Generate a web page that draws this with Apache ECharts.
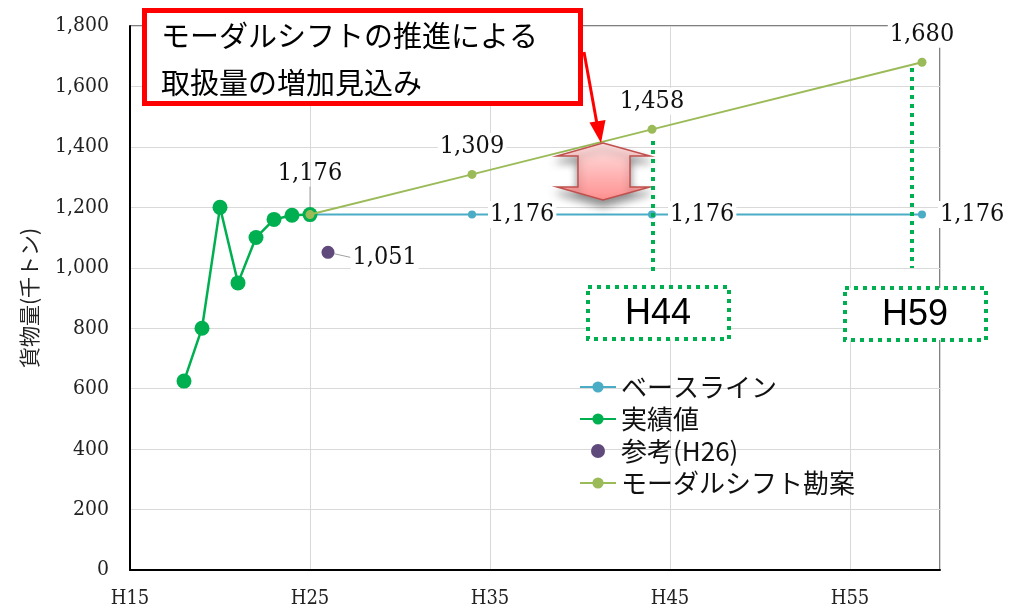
<!DOCTYPE html>
<html>
<head>
<meta charset="utf-8">
<script src="https://cdn.jsdelivr.net/npm/echarts@6/dist/echarts.min.js"></script>
<style>
  html, body { margin: 0; padding: 0; background: #fff; }
  #chart { width: 1026px; height: 610px; }
</style>
</head>
<body>
<div id="chart"></div>
<script>
// 年度 (H = 平成)
const baseYears = [25, 34, 44, 59];
const baseValues = [1176, 1176, 1176, 1176];
const actualYears = [18, 19, 20, 21, 22, 23, 24, 25];
const actualValues = [625, 800, 1200, 950, 1100, 1160, 1174, 1176];
const refYears = [26];
const refValues = [1051];
const modalYears = [25, 34, 44, 59];
const modalValues = [1176, 1309, 1458, 1680];

const seriesNames = ['ベースライン', '実績値', '参考(H26)', 'モーダルシフト勘案'];
const yTicks = [0, 200, 400, 600, 800, 1000, 1200, 1400, 1600, 1800];

const serif = '"DejaVu Serif Condensed", "DejaVu Serif", serif';
const jp = 'Noto Sans CJK JP';
const fmt = v => v.toLocaleString('en-US');

function pairs(xs, ys) {
  return xs.map((x, i) => [x, ys[i]]);
}

const labelBase = {
  fontFamily: serif,
  fontSize: 25,
  color: '#111',
  backgroundColor: '#fff',
  padding: [1, 2],
  formatter: p => fmt(p.value[1])
};

const leader = { show: true, lineStyle: { color: '#a0a0a0', width: 1 } };

const option = {
  animation: false,
  grid: {
    left: 130, right: 86, top: 26, bottom: 40,
    show: true, borderColor: '#000', borderWidth: 1
  },
  legend: {
    orient: 'vertical',
    left: 574, top: 368,
    itemWidth: 36, itemHeight: 14, itemGap: 4,
    textStyle: { fontFamily: jp, fontSize: 26, color: '#111', lineHeight: 28 },
    data: seriesNames
  },
  xAxis: {
    type: 'value',
    min: 15, max: 60, interval: 10,
    axisLine: { lineStyle: { color: '#000', width: 2 } },
    axisTick: { show: false },
    axisLabel: {
      fontFamily: serif, fontSize: 20, color: '#222', margin: 19,
      formatter: v => (v % 10 === 5 ? 'H' + v : '')
    },
    splitLine: { lineStyle: { color: '#d9d9d9' } }
  },
  yAxis: {
    type: 'value',
    min: 0, max: 1800, interval: 200,
    name: '貨物量(千トン)',
    nameLocation: 'middle',
    nameGap: 90,
    nameRotate: 90,
    nameTextStyle: { fontFamily: jp, fontSize: 21, color: '#222' },
    axisLine: { show: true, lineStyle: { color: '#000', width: 2 } },
    axisTick: { show: false },
    axisLabel: {
      fontFamily: serif, fontSize: 21, color: '#222', margin: 21,
      formatter: v => (yTicks.includes(v) ? fmt(v) : '')
    },
    splitLine: { lineStyle: { color: '#d9d9d9' } }
  },
  series: [
    {
      name: seriesNames[0],
      type: 'line',
      data: pairs(baseYears, baseValues).map((d, i) => (i === 0
        ? {
            value: d,
            label: { show: true, position: 'top', distance: 10, ...labelBase, backgroundColor: 'transparent' },
            labelLine: leader
          }
        : {
            value: d,
            label: { show: true, position: 'right', distance: 12, ...labelBase },
            labelLine: { show: false }
          })),
      labelLayout: p => (p.dataIndex === 0 ? { dy: -14 } : {}),
      symbol: 'circle', symbolSize: 8,
      itemStyle: { color: '#4bacc6' },
      lineStyle: { color: '#4bacc6', width: 2 },
      z: 2
    },
    {
      name: seriesNames[1],
      type: 'line',
      data: pairs(actualYears, actualValues),
      symbol: 'circle', symbolSize: 15,
      itemStyle: { color: '#00b050' },
      lineStyle: { color: '#00b050', width: 2.5 },
      z: 3
    },
    {
      name: seriesNames[2],
      type: 'scatter',
      data: pairs(refYears, refValues),
      symbol: 'circle', symbolSize: 13,
      itemStyle: { color: '#604a7b', opacity: 1 },
      label: { show: true, position: 'right', distance: 4, ...labelBase },
      labelLayout: { dx: 12, dy: 5 },
      labelLine: leader,
      z: 3
    },
    {
      name: seriesNames[3],
      type: 'line',
      data: pairs(modalYears, modalValues).map((d, i) => ({
        value: d,
        label: { show: i > 0, position: 'top', distance: 10, ...labelBase }
      })),
      symbol: 'circle', symbolSize: 9,
      itemStyle: { color: '#9bbb59' },
      lineStyle: { color: '#9bbb59', width: 2 },
      z: 4
    }
  ],
  graphic: [
    // 注記ボックス
    {
      type: 'rect', z: 100,
      shape: { x: 144.5, y: 10.5, width: 436, height: 93 },
      style: { fill: '#fff', stroke: '#ff0000', lineWidth: 5 }
    },
    {
      type: 'text', z: 101, left: 161, top: 12,
      style: {
        text: 'モーダルシフトの推進による\n取扱量の増加見込み',
        font: '29px "Noto Sans CJK JP"', fill: '#000', lineHeight: 47
      }
    },
    // 赤矢印
    {
      type: 'line', z: 100,
      shape: { x1: 584, y1: 52, x2: 597, y2: 124 },
      style: { stroke: '#ff0000', lineWidth: 3 }
    },
    {
      type: 'polygon', z: 100,
      shape: { points: [[601, 143], [605.5, 120], [589.5, 122.5]] },
      style: { fill: '#ff0000' }
    },
    // 上下矢印
    {
      type: 'polygon', z: 50,
      shape: {
        points: [[603, 143], [650, 156], [630, 156], [630, 187], [650, 187],
                 [603, 200], [557, 187], [578, 187], [578, 156], [557, 156]]
      },
      style: {
        fill: new echarts.graphic.LinearGradient(0, 0, 0, 1, [
          { offset: 0, color: '#ffe4e4' },
          { offset: 0.6, color: '#ffb0b0' },
          { offset: 1, color: '#ff9090' }
        ]),
        stroke: '#c0504d', lineWidth: 1.5,
        shadowBlur: 8, shadowOffsetY: 6, shadowColor: 'rgba(0,0,0,0.45)'
      }
    },
    // 緑点線
    {
      type: 'line', z: 60,
      shape: { x1: 653, y1: 141, x2: 653, y2: 272 },
      style: { stroke: '#00b050', lineWidth: 4, lineDash: [4, 5] }
    },
    {
      type: 'line', z: 60,
      shape: { x1: 912, y1: 68, x2: 912, y2: 268 },
      style: { stroke: '#00b050', lineWidth: 4, lineDash: [4, 5] }
    },
    {
      type: 'rect', z: 60,
      shape: { x: 588, y: 287, width: 141, height: 52 },
      style: { fill: '#fff', stroke: '#00b050', lineWidth: 4, lineDash: [4, 5] }
    },
    {
      type: 'text', z: 61, x: 658, y: 314,
      style: { text: 'H44', font: '36px "Liberation Sans"', fill: '#000', textAlign: 'center', textVerticalAlign: 'middle' }
    },
    {
      type: 'rect', z: 60,
      shape: { x: 845, y: 288, width: 141, height: 52 },
      style: { fill: '#fff', stroke: '#00b050', lineWidth: 4, lineDash: [4, 5] }
    },
    {
      type: 'text', z: 61, x: 915, y: 315,
      style: { text: 'H59', font: '36px "Liberation Sans"', fill: '#000', textAlign: 'center', textVerticalAlign: 'middle' }
    }
  ]
};

const myChart = echarts.init(document.getElementById('chart'));
myChart.setOption(option);
</script>
</body>
</html>
